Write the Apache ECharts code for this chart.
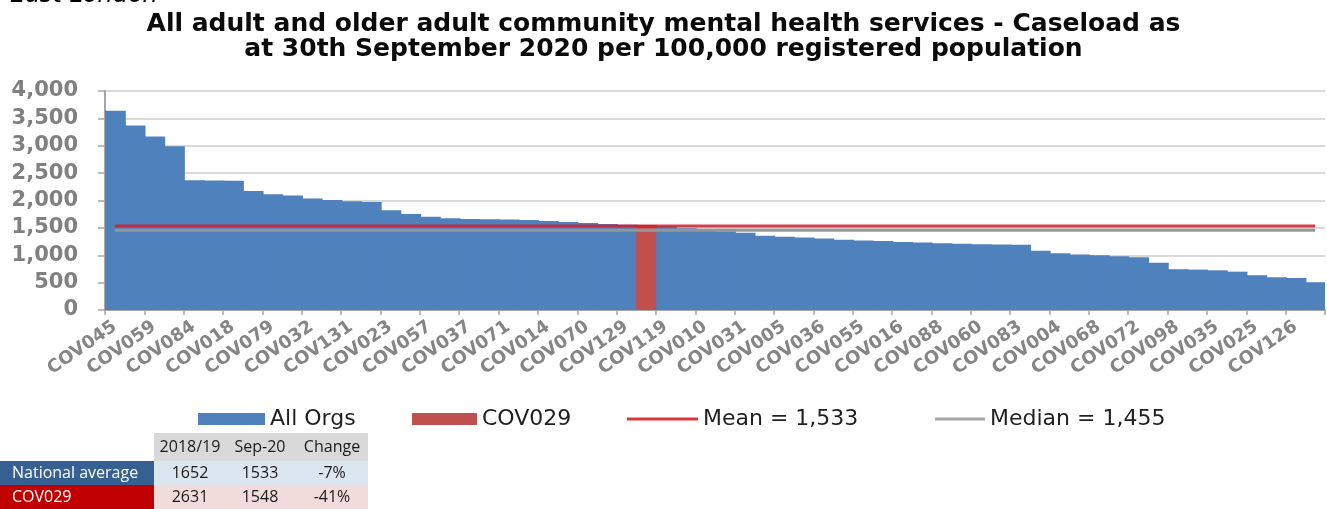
<!DOCTYPE html>
<html>
<head>
<meta charset="utf-8">
<script src="https://cdn.jsdelivr.net/npm/echarts@6/dist/echarts.min.js"></script>
<style>
  html, body { margin: 0; padding: 0; background: #fff; }
  #chart { width: 1327px; height: 509px; }
</style>
</head>
<body>
<div id="chart"></div>
<script>
// Caseload per 100,000 registered population, organisations sorted high to low
const caseload = [
  3640, 3370, 3168, 2992, 2370, 2365, 2360, 2175, 2115, 2090,
  2035, 2011, 1987, 1974, 1822, 1755, 1705, 1676, 1664, 1658,
  1652, 1642, 1625, 1608, 1590, 1572, 1555, 1548, 1530, 1495,
  1470, 1440, 1413, 1358, 1340, 1322, 1304, 1285, 1270, 1262,
  1240, 1232, 1218, 1208, 1202, 1198, 1190, 1082, 1038, 1015,
  998, 980, 965, 865, 745, 738, 725, 700, 635, 598,
  585, 506
];

// Organisation codes shown under every second bar
const tickLabels = [
  'COV045', 'COV059', 'COV084', 'COV018', 'COV079', 'COV032', 'COV131', 'COV023',
  'COV057', 'COV037', 'COV071', 'COV014', 'COV070', 'COV129', 'COV119', 'COV010',
  'COV031', 'COV005', 'COV036', 'COV055', 'COV016', 'COV088', 'COV060', 'COV083',
  'COV004', 'COV068', 'COV072', 'COV098', 'COV035', 'COV025', 'COV126'
];

// Highlighted organisation and its position in the sorted list
const highlightOrg = 'COV029';
const highlightIndex = 27;

// Reference values
const MEAN = 1533;
const MEDIAN = 1455;

// Comparison table
const tableHeader = ['2018/19', 'Sep-20', 'Change'];
const nationalRow = ['1652', '1533', '-7%'];
const orgRow = ['2631', '1548', '-41%'];

const categoryIdx = caseload.map((_, i) => String(i));
const highlightData = caseload.map((v, i) => (i === highlightIndex ? v : '-'));
const meanData = caseload.map(() => MEAN);
const medianData = caseload.map(() => MEDIAN);

const fmt = (n) => n.toLocaleString('en-US');

const BLUE = '#4f81bd';
const RED_BAR = '#c0504d';
const MEAN_RED = '#cc1f2e';
const MEDIAN_GREY = '#969696';

const legendText = { fontFamily: 'DejaVu Sans', fontSize: 22, color: '#1f1f1f' };
function legendAt(left, item, w, h) {
  return {
    left: left, top: 403, data: [item], itemWidth: w, itemHeight: h,
    itemGap: 0, textStyle: legendText, selectedMode: false
  };
}

// Table cells drawn as graphic rectangles and text
const tableFont = '16px "Open Sans"';
const colCenters = [190, 260, 332];
function cellText(x, y, text, fill, align) {
  return {
    type: 'text', x: x, y: y, silent: true,
    style: {
      text: text, fill: fill, font: tableFont,
      align: align || 'center', verticalAlign: 'middle',
      textAlign: align || 'center', textVerticalAlign: 'middle'
    }
  };
}
const tableGraphics = [
  { type: 'rect', shape: { x: 154, y: 433, width: 214, height: 28 }, style: { fill: '#d9d9d9' }, silent: true },
  { type: 'rect', shape: { x: 0, y: 461, width: 154, height: 24 }, style: { fill: '#366092' }, silent: true },
  { type: 'rect', shape: { x: 154, y: 461, width: 214, height: 24 }, style: { fill: '#dce6f1' }, silent: true },
  { type: 'rect', shape: { x: 0, y: 485, width: 154, height: 24 }, style: { fill: '#c00000' }, silent: true },
  { type: 'rect', shape: { x: 154, y: 485, width: 214, height: 24 }, style: { fill: '#f2dcdb' }, silent: true },
  cellText(12, 473, 'National average', '#ffffff', 'left'),
  cellText(12, 497, highlightOrg, '#ffffff', 'left')
];
tableHeader.forEach((t, i) => tableGraphics.push(cellText(colCenters[i], 447, t, '#1a1a1a')));
nationalRow.forEach((t, i) => tableGraphics.push(cellText(colCenters[i], 473, t, '#1a1a1a')));
orgRow.forEach((t, i) => tableGraphics.push(cellText(colCenters[i], 497, t, '#1a1a1a')));

const chart = echarts.init(document.getElementById('chart'), null, { renderer: 'canvas' });

chart.setOption({
  animation: false,
  backgroundColor: '#ffffff',
  title: {
    text: 'All adult and older adult community mental health services - Caseload as\nat 30th September 2020 per 100,000 registered population',
    left: 'center',
    top: 7,
    textStyle: {
      fontFamily: 'DejaVu Sans', fontWeight: 'bold', fontSize: 25,
      color: '#0a0a0a', lineHeight: 25
    }
  },
  legend: [
    legendAt(193, { name: 'All Orgs', icon: 'rect' }, 67, 12),
    legendAt(407, { name: highlightOrg, icon: 'rect' }, 65, 12),
    legendAt(622, { name: 'Mean = 1,533', icon: 'rect', itemStyle: { color: '#d9393d' } }, 71, 3),
    legendAt(930, { name: 'Median = 1,455', icon: 'rect', itemStyle: { color: '#a6a6a6' } }, 50, 3)
  ],
  grid: {
    left: 105, right: 2, top: 91, bottom: 199,
    containLabel: false, outerBoundsMode: 'none'
  },
  xAxis: {
    type: 'category',
    data: categoryIdx,
    boundaryGap: true,
    axisLine: { lineStyle: { color: '#a6a6a6', width: 2 } },
    axisTick: { show: true, length: 5, lineStyle: { color: '#a6a6a6', width: 1.5 } },
    axisLabel: {
      interval: 1,
      rotate: 35,
      margin: 15,
      formatter: (val, idx) => tickLabels[idx / 2] || '',
      fontFamily: 'DejaVu Sans', fontWeight: 'bold', fontSize: 18, color: '#858585'
    },
    splitLine: { show: false }
  },
  yAxis: {
    type: 'value',
    min: 0, max: 4000, interval: 500,
    axisLine: { show: true, lineStyle: { color: '#a6a6a6', width: 2 } },
    axisTick: { show: true, length: 7, lineStyle: { color: '#a6a6a6', width: 1.5 } },
    axisLabel: {
      margin: 27,
      formatter: (v) => fmt(v),
      fontFamily: 'DejaVu Sans', fontWeight: 'bold', fontSize: 21, color: '#808080'
    },
    splitLine: { lineStyle: { color: '#d9d9d9', width: 2 } }
  },
  series: [
    {
      // bars are drawn slightly wider than a category so neighbours overlap without seams
      name: 'All Orgs', type: 'bar', data: caseload,
      itemStyle: { color: BLUE },
      barWidth: 21, barGap: '-100%', z: 2
    },
    {
      name: highlightOrg, type: 'bar', data: highlightData,
      itemStyle: { color: RED_BAR },
      barWidth: 20, barGap: '-100%', z: 3
    },
    {
      name: 'Median = 1,455', type: 'line', data: medianData,
      symbol: 'none', showSymbol: false,
      lineStyle: { color: MEDIAN_GREY, width: 3 },
      itemStyle: { color: MEDIAN_GREY }, z: 4
    },
    {
      name: 'Mean = 1,533', type: 'line', data: meanData,
      symbol: 'none', showSymbol: false,
      lineStyle: { color: MEAN_RED, width: 3, opacity: 0.85 },
      itemStyle: { color: MEAN_RED }, z: 5
    }
  ],
  graphic: [
    {
      type: 'text', x: 10, y: -16, silent: true,
      style: {
        text: 'East London', fill: '#000000',
        font: 'italic 24px "DejaVu Sans"',
        align: 'left', verticalAlign: 'top', textAlign: 'left', textVerticalAlign: 'top'
      }
    }
  ].concat(tableGraphics)
});
</script>
</body>
</html>
